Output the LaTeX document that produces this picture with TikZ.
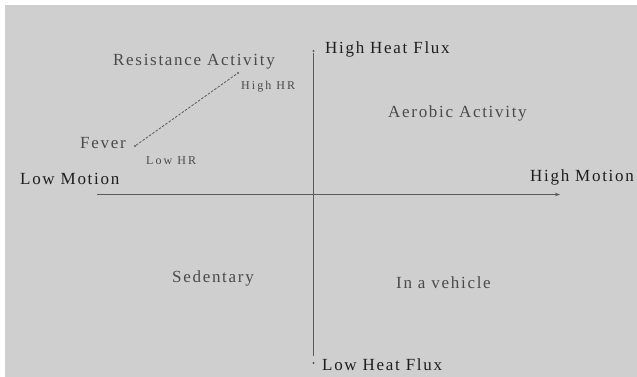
\documentclass[tikz,border=0pt]{standalone}
\usepackage{fontspec}
\setmainfont{Liberation Serif}
\newfontfamily\bigspaced[LetterSpace=10]{Liberation Serif}
\newfontfamily\smallspaced[LetterSpace=17]{Liberation Serif}
\usetikzlibrary{arrows.meta}
\definecolor{bg}{HTML}{CFCFCF}
\definecolor{darktxt}{HTML}{1E1E1E}
\definecolor{midtxt}{HTML}{4A4A4A}
\definecolor{axis}{HTML}{5A5A5A}
\begin{document}
\begin{tikzpicture}[x=1pt,y=-1pt,
  biglab/.style={inner sep=0pt,anchor=west,yshift=-2pt,font=\bigspaced\fontsize{17}{19}\selectfont,text=darktxt},
  softlab/.style={biglab,text=midtxt},
  smalllab/.style={inner sep=0pt,anchor=west,yshift=-1pt,font=\smallspaced\fontsize{12}{14}\selectfont,text=midtxt},
  axisline/.style={draw=axis,line width=0.9pt},
  enddot/.style={circle,fill=axis,inner sep=0pt,minimum size=2.4pt}]
\useasboundingbox (0,0) rectangle (637,377);
\fill[white] (0,0) rectangle (637,377);
\fill[bg] (5,5) rectangle (637,377);
% axes
\coordinate (hl) at (97,194.5);
\coordinate (hr) at (560,194.5);
\coordinate (vt) at (313.5,53);
\coordinate (vb) at (313.5,356);
\draw[axisline,-{Stealth[length=5pt,width=3.5pt]}] (hl) -- (hr);
\draw[axisline] (vt) -- (vb);
\node[enddot] (vtd) at (313.5,51) {};
\node[enddot] (vbd) at (313.5,363) {};
% labels
\node[biglab] (hhf) at (325,47) {High Heat Flux};
\node[biglab] (lhf) at (322,363) {Low Heat Flux};
\node[biglab] (lm) at (20,177) {Low Motion};
\node[biglab] (hm) at (530,175) {High Motion};
\node[softlab] (ra) at (113,60) {Resistance Activity};
\node[softlab] (fev) at (80,141) {Fever};
\node[softlab] (aa) at (388,111) {Aerobic Activity};
\node[softlab] (sed) at (172,276) {Sedentary};
\node[softlab] (veh) at (396,281) {In a vehicle};
\node[smalllab] (hhr) at (241,86) {High HR};
\node[smalllab] (lhr) at (146,160) {Low HR};
% dashed HR line
\node[enddot,minimum size=2.2pt] (d1) at (135,146) {};
\node[enddot,minimum size=2.2pt] (d2) at (238,73) {};
\draw[draw=axis,line width=0.8pt,dash pattern=on 2.5pt off 1.5pt] (d1) -- (d2);
\end{tikzpicture}
\end{document}
